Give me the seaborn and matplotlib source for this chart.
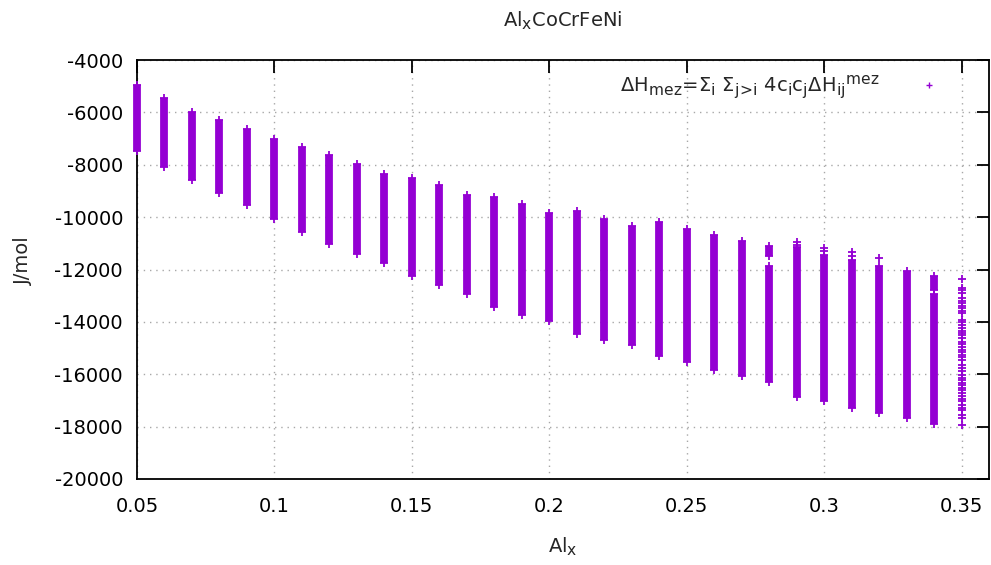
import matplotlib
matplotlib.use("Agg")
import matplotlib.pyplot as plt
import numpy as np
import pandas as pd
import seaborn as sns
from matplotlib.lines import Line2D
from matplotlib.ticker import FuncFormatter, MultipleLocator
import matplotlib._mathtext as _mt

# gnuplot enhanced text uses larger sub/superscripts than mathtext's default
_mt.SHRINK_FACTOR = 0.8

# ---- data ----
al_x = [0.05, 0.06, 0.07, 0.08, 0.09, 0.10, 0.11, 0.12, 0.13, 0.14,
        0.15, 0.16, 0.17, 0.18, 0.19, 0.20, 0.21, 0.22, 0.23, 0.24,
        0.25, 0.26, 0.27, 0.28, 0.29, 0.30, 0.31, 0.32, 0.33, 0.34]
h_top = [-4950, -5470, -5980, -6290, -6640, -7020, -7320, -7640, -7980, -8360,
         -8490, -8790, -9140, -9220, -9510, -9830, -9770, -10060, -10320, -10190,
         -10440, -10690, -10920, -11850, -11150, -11430, -11640, -11850, -12040, -12950]
h_bottom = [-7480, -8100, -8580, -9090, -9550, -10060, -10550, -11030, -11390, -11750,
            -12260, -12610, -12940, -13430, -13720, -13980, -14450, -14700, -14870, -15320,
            -15550, -15820, -16060, -16310, -16850, -17040, -17300, -17490, -17680, -17900]
# short separate dense pieces above a gap
seg_x = [0.28, 0.34]
seg_top = [-11090, -12230]
seg_bottom = [-11490, -12800]
# isolated points
pt_x = [0.29, 0.29, 0.30, 0.30, 0.31, 0.31, 0.32] + [0.35] * 47
pt_h = [-10950, -11050, -11170, -11300, -11340, -11490, -11550,
        -12380, -12700, -12790, -12890, -13080, -13190, -13290, -13380, -13480,
        -13580, -13660, -13920, -14020, -14110, -14220, -14330, -14420, -14520,
        -14610, -14750, -14860, -14950, -15060, -15150, -15250, -15350, -15440,
        -15640, -15760, -15890, -16020, -16130, -16220, -16330, -16420, -16520,
        -16590, -16720, -16830, -16940, -17040, -17170, -17280, -17380, -17550,
        -17680, -17930]

title_txt = "Al$_\\mathrm{x}$CoCrFeNi"
x_label = "Al$_\\mathrm{x}$"
y_label = "J/mol"
legend_txt = ("ΔH$_{\\mathrm{mez}}$=Σ$_\\mathrm{i}$ Σ$_{\\mathrm{j\\!>\\!i}}$ "
              "4c$_\\mathrm{i}$c$_\\mathrm{j}$ΔH$_{\\mathrm{ij}}{}^{\\mathrm{mez}}$")

violet = "#9400D3"

sns.set_style("white")
plt.rcParams["font.family"] = ["DejaVu Sans"]
plt.rcParams["mathtext.fontset"] = "dejavusans"
plt.rcParams["axes.unicode_minus"] = False
FS = 14

fig = plt.figure(figsize=(9.91, 5.65), dpi=100)
W, H = 991, 565
L, R, T, B = 137, 989, 60, 479
ax = fig.add_axes([L / W, 1 - B / H, (R - L) / W, (B - T) / H])

n = len(al_x)
m = len(seg_x)
bands = pd.DataFrame({
    "x": al_x + al_x + seg_x + seg_x,
    "h": h_top + h_bottom + seg_top + seg_bottom,
    "col": list(range(n)) * 2 + [n + j for j in range(m)] * 2,
})
sns.lineplot(data=bands, x="x", y="h", units="col", estimator=None, sort=False,
             color=violet, lw=5.6, solid_capstyle="butt", clip_on=False,
             legend=False, ax=ax, zorder=3)

pts = pd.DataFrame({
    "x": al_x + al_x + seg_x + seg_x + pt_x,
    "h": h_top + h_bottom + seg_top + seg_bottom + pt_h,
})
sns.scatterplot(data=pts, x="x", y="h", marker="+", s=30, linewidth=1.3,
                color=violet, clip_on=False, legend=False, ax=ax, zorder=4)

ax.set_xlim(0.05, 0.36)
ax.set_ylim(-20000, -4000)
ax.xaxis.set_major_locator(MultipleLocator(0.05))
ax.yaxis.set_major_locator(MultipleLocator(2000))
ax.xaxis.set_major_formatter(FuncFormatter(lambda v, p: f"{v:g}" if v <= 0.3501 else ""))
ax.yaxis.set_major_formatter(FuncFormatter(lambda v, p: f"{v:g}"))

ax.set_axisbelow(True)
ax.grid(True, color="#a8a8a8", linestyle=(0, (1, 3.5)), lw=1.0)
for s in ax.spines.values():
    s.set_color("black")
    s.set_linewidth(1.3)
ax.tick_params(direction="in", length=9, width=1.3, top=True, right=True,
               labelsize=FS, colors="black")
ax.tick_params(axis="x", pad=13)
ax.tick_params(axis="y", pad=10)

ax.set_xlabel(x_label, fontsize=FS)
ax.set_ylabel(y_label, fontsize=FS)
ax.xaxis.set_label_coords(0.5, -(536 - B) / (B - T))
ax.yaxis.set_label_coords(-(L - 33) / (R - L), 0.52)
ax.set_title(title_txt, fontsize=FS, y=(B - 27) / (B - T), pad=0)

handle = Line2D([], [], marker="+", ls="none", color=violet, markersize=5, mew=1.0)
ax.legend([handle], [legend_txt], loc="upper right", frameon=False,
          markerfirst=False, fontsize=FS, handlelength=2.2, handletextpad=1.4,
          borderpad=0, borderaxespad=0,
          bbox_to_anchor=((950 - L) / (R - L), (B - 73) / (B - T)))

fig.savefig("out.png", dpi=100)
